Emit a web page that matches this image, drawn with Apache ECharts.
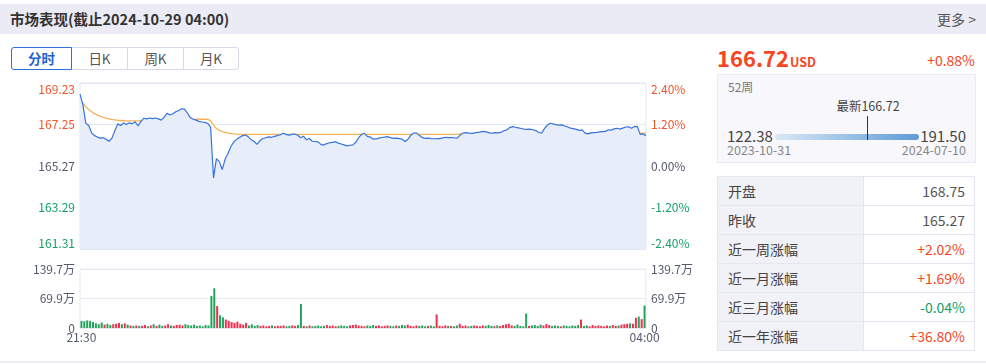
<!DOCTYPE html>
<html><head><meta charset="utf-8">
<script src="https://cdn.jsdelivr.net/npm/echarts@6/dist/echarts.min.js"></script>
<style>
body{margin:0;width:986px;height:364px;background:#fff;font-family:"Noto Sans CJK SC","Noto Sans",sans-serif;position:relative;overflow:hidden;}
.hdr{position:absolute;left:0;top:4px;width:986px;height:30px;background:#ebebf5;}
.hdr .t{position:absolute;left:10px;top:0;line-height:30px;font-size:14.5px;font-weight:bold;color:#333;}
.hdr .m{position:absolute;right:10px;top:0;line-height:30px;font-size:14px;color:#555;}
.tabs{position:absolute;left:11px;top:47px;height:23px;}
.tab{position:absolute;top:0;box-sizing:border-box;height:23px;line-height:21px;text-align:center;font-size:13.5px;color:#555;border:1px solid #d6d9ea;}
.tab.on{border-color:#2f6fde;color:#1f62d6;font-weight:bold;z-index:2;border-radius:3px 0 0 3px;}
#chart{position:absolute;left:0;top:75px;width:710px;height:280px;}
.price{position:absolute;left:717px;top:44px;line-height:26px;font-size:22px;font-weight:bold;color:#f5461f;}
.price span{font-size:12.5px;margin-left:1px;}
.chg{position:absolute;right:11px;top:50px;line-height:20px;font-size:14px;color:#f5461f;}
.wk{position:absolute;left:717px;top:74px;width:259px;height:89px;box-sizing:border-box;background:#f8f8fc;border:1px solid #eaeaf4;}
.wk div{position:absolute;white-space:nowrap;}
.tbl{position:absolute;left:717px;top:176px;width:258px;border-collapse:collapse;}
.tbl td{height:28px;padding:0;border:1px solid #e6e6f2;font-size:14px;}
.tbl td.l{width:135px;background:#f1f1f8;color:#444;padding-left:10px;}
.tbl td.v{text-align:right;padding-right:9px;color:#555;}
.bline{position:absolute;left:0;top:361px;width:986px;height:2px;background:#ededf5;}
</style></head>
<body>
<div class="hdr"><div class="t">市场表现(截止2024-10-29 04:00)</div><div class="m">更多 &gt;</div></div>
<div class="tabs" id="tabs"></div>
<div id="chart"></div>
<div class="price" id="price"></div>
<div class="chg" id="chg"></div>
<div class="wk" id="wk"></div>
<table class="tbl" id="tbl"></table>
<div class="bline"></div>
<script>
// ---- data ----
const tabNames = ['分时', '日K', '周K', '月K'];
const timeLabels = ['21:30', '04:00'];
const prevClose = 165.27;
const openPrice = 168.75;
const lastPrice = 166.72;
const lastChange = '+0.88%';
const week52 = { low: 122.38, high: 191.50, lowDate: '2023-10-31', highDate: '2024-07-10' };
const statNames = ['开盘', '昨收', '近一周涨幅', '近一月涨幅', '近三月涨幅', '近一年涨幅'];
const statValues = ['168.75', '165.27', '+2.02%', '+1.69%', '-0.04%', '+36.80%'];

const prices = [
168.70,168.20,167.31,167.20,166.85,166.72,166.65,166.60,166.62,166.55,
166.45,166.60,166.95,167.28,167.20,167.32,167.25,167.33,167.28,167.38,
167.18,167.40,167.55,167.52,167.56,167.53,167.56,167.52,167.46,167.60,
167.78,167.70,167.76,167.86,167.92,168.00,167.98,167.80,167.58,167.50,
167.46,167.40,167.37,167.35,167.30,167.12,164.70,165.62,165.48,165.10,
165.60,165.88,166.20,166.42,166.55,166.64,166.72,166.75,166.66,166.52,
166.44,166.30,166.48,166.58,166.62,166.66,166.64,166.68,166.72,166.76,
166.83,166.78,166.74,166.78,166.80,166.74,166.62,166.69,166.52,166.58,
166.45,166.44,166.42,166.30,166.27,166.34,166.38,166.40,166.43,166.36,
166.32,166.28,166.23,166.26,166.28,166.40,166.62,166.78,166.83,166.68,
166.65,166.55,166.56,166.60,166.63,166.65,166.67,166.62,166.59,166.60,
166.58,166.55,166.44,166.55,166.74,166.84,166.84,166.72,166.62,166.59,
166.60,166.58,166.57,166.58,166.58,166.61,166.64,166.62,166.63,166.61,
166.60,166.76,166.84,166.86,166.84,166.83,166.85,166.87,166.90,166.92,
166.90,166.85,166.84,166.86,166.85,166.87,166.95,166.99,167.10,167.15,
167.12,167.09,167.06,167.03,167.02,167.03,167.00,166.96,166.88,166.83,
167.05,167.22,167.31,167.28,167.24,167.22,167.23,167.18,167.13,167.08,
167.05,167.02,166.97,166.99,166.84,166.80,166.85,166.86,166.87,166.90,
166.91,166.92,167.00,166.98,167.04,167.07,167.03,167.08,167.13,167.14,
167.07,167.15,167.16,166.78,166.80,166.72
];

const avgPrices = [
168.45,168.25,168.10,167.97,167.86,167.77,167.70,167.64,167.59,167.55,
167.52,167.49,167.47,167.45,167.44,167.43,167.42,167.42,167.42,167.42,
167.42,167.43,167.43,167.43,167.44,167.44,167.44,167.45,167.45,167.45,
167.46,167.46,167.47,167.47,167.48,167.48,167.49,167.49,167.50,167.50,
167.50,167.50,167.50,167.50,167.50,167.42,167.22,167.06,166.97,166.91,
166.87,166.84,166.82,166.80,166.79,166.78,166.78,166.78,166.78,166.78,
166.78,166.78,166.78,166.78,166.78,166.78,166.78,166.78,166.78,166.78,
166.78,166.78,166.78,166.78,166.78,166.78,166.78,166.78,166.78,166.78,
166.78,166.78,166.78,166.78,166.78,166.78,166.78,166.78,166.78,166.78,
166.78,166.78,166.78,166.78,166.78,166.78,166.78,166.78,166.78,166.78,
166.78,166.78,166.78,166.78,166.78,166.78,166.78,166.78,166.78,166.78,
166.78,166.78,166.78,166.78,166.78,166.78,166.78,166.78,166.78,166.78,
166.78,166.78,166.78,166.78,166.78,166.78,166.78,166.78,166.78,166.78,
166.79,166.79,166.79,166.79,166.79,166.79,166.79,166.79,166.79,166.79,
166.79,166.79,166.80,166.80,166.80,166.80,166.80,166.80,166.80,166.80,
166.80,166.80,166.80,166.80,166.80,166.80,166.80,166.80,166.80,166.80,
166.81,166.81,166.81,166.81,166.81,166.81,166.81,166.81,166.81,166.81,
166.82,166.82,166.82,166.82,166.82,166.82,166.82,166.82,166.82,166.82,
166.83,166.83,166.83,166.83,166.83,166.83,166.83,166.83,166.83,166.83,
166.84,166.84,166.84,166.84,166.84,166.84
];

// volumes in 万
const volumes = [
17,16,18,17,14,11,9,13,8,10,
7,9,10,12,9,11,8,6,5,6,
5,5,7,4,6,9,5,8,5,6,
9,6,5,7,8,6,9,7,6,8,
5,6,4,7,6,76,94,52,30,25,
20,17,14,12,15,10,8,12,6,9,
5,7,5,6,4,5,6,4,5,5,
6,4,5,6,5,7,57,5,4,6,
4,5,6,4,5,7,5,6,4,5,
6,5,4,6,7,8,6,5,4,6,
5,7,5,6,4,5,6,5,4,6,
5,7,6,8,5,4,6,5,6,4,
5,6,4,32,5,4,6,5,5,4,
6,10,5,6,4,5,6,5,4,6,
5,7,5,4,6,5,7,9,10,6,
5,8,5,4,34,5,6,7,5,8,
6,9,7,5,6,5,4,6,5,4,
6,5,7,20,5,6,4,7,5,6,
5,4,6,5,7,5,6,8,9,10,
11,10,24,27,21,53
];
const volMax = 139.7;

// ---- page parts ----
const tabW = [61, 56, 56, 55];
let tx = 0, th = '';
tabNames.forEach((n, i) => {
  th += `<div class="tab${i === 0 ? ' on' : ''}" style="left:${tx - (i ? 1 : 0)}px;width:${tabW[i] + (i ? 1 : 0)}px;${i === tabNames.length - 1 ? 'border-radius:0 3px 3px 0;' : ''}">${n}</div>`;
  tx += tabW[i];
});
document.getElementById('tabs').innerHTML = th;
document.getElementById('price').innerHTML = lastPrice.toFixed(2) + '<span>USD</span>';
document.getElementById('chg').textContent = lastChange;
document.getElementById('wk').innerHTML =
  '<div style="left:10px;top:3px;font-size:12px;line-height:18px;color:#777;">52周</div>' +
  `<div style="left:90px;width:120px;text-align:center;top:22px;font-size:12.5px;line-height:18px;color:#444;">最新${lastPrice.toFixed(2)}</div>` +
  `<div style="left:57px;top:59px;width:144px;height:6px;border-radius:3px;background:linear-gradient(90deg,#dbe8f5,#5f9bd6);"></div>` +
  `<div style="left:${57 + Math.round(144 * (lastPrice - week52.low) / (week52.high - week52.low))}px;top:41px;width:1px;height:24px;background:#333;"></div>` +
  `<div style="left:9px;top:50px;font-size:15px;line-height:22px;color:#444;">${week52.low.toFixed(2)}</div>` +
  `<div style="right:9px;top:50px;font-size:15px;line-height:22px;color:#444;">${week52.high.toFixed(2)}</div>` +
  `<div style="left:9px;top:67px;font-size:12.5px;line-height:16px;color:#888;">${week52.lowDate}</div>` +
  `<div style="right:9px;top:67px;font-size:12.5px;line-height:16px;color:#888;">${week52.highDate}</div>`;
let tb = '';
statNames.forEach((n, i) => {
  const v = statValues[i];
  const c = v[0] === '+' ? '#f5461f' : (v[0] === '-' ? '#16a067' : '#555');
  tb += `<tr><td class="l">${n}</td><td class="v" style="color:${c}">${v}</td></tr>`;
});
document.getElementById('tbl').innerHTML = tb;

// ---- chart ----
const cats = prices.map((_, k) => {
  const m = (21 * 60 + 30 + 2 * k) % 1440;
  return String(Math.floor(m / 60)).padStart(2, '0') + ':' + String(m % 60).padStart(2, '0');
});
const RED = '#f2542d', GREEN = '#16a067', GRAY = '#555a6e';
const FONT = '"Noto Sans CJK SC","Noto Sans",sans-serif';
const step = 1.98;
const priceColor = v => v > 1e-6 ? RED : (v < -1e-6 ? GREEN : GRAY);
const volFmt = v => v < 1e-6 ? '0' : (Math.round(v * 10 + 1e-6) / 10).toFixed(1) + '万';
const volData = volumes.map((v, k) => {
  const prev = k === 0 ? openPrice : prices[k - 1];
  return { value: v, itemStyle: { color: prices[k] >= prev ? '#f0304f' : '#24a35c' } };
});

const chart = echarts.init(document.getElementById('chart'));
chart.setOption({
  animation: false,
  textStyle: { fontFamily: FONT },
  grid: [
    { left: 80, top: 8, width: 566, height: 166, show: true, borderColor: '#e3e6f1', borderWidth: 1 },
    { left: 80, top: 194, width: 566, height: 59, show: true, borderColor: '#e8eaf3', borderWidth: 1 }
  ],
  xAxis: [
    { type: 'category', gridIndex: 0, data: cats, boundaryGap: false,
      axisLine: { show: false }, axisTick: { show: false }, axisLabel: { show: false }, splitLine: { show: false } },
    { type: 'category', gridIndex: 1, data: cats, boundaryGap: true,
      axisLine: { show: false }, axisTick: { show: false }, splitLine: { show: false },
      axisLabel: { interval: cats.length - 2, color: GRAY, fontSize: 12, margin: 3,
        formatter: v => timeLabels.includes(v) ? v : '' } }
  ],
  yAxis: [
    { type: 'value', gridIndex: 0, position: 'left', min: -2 * step, max: 2 * step, interval: step,
      axisLine: { show: false }, axisTick: { show: false },
      splitLine: { lineStyle: { color: '#e3e6f3' } },
      axisLabel: { fontSize: 12, margin: 5, color: priceColor,
        verticalAlignMaxLabel: 'top', verticalAlignMinLabel: 'bottom',
        formatter: v => (v + prevClose).toFixed(2) } },
    { type: 'value', gridIndex: 0, position: 'right', min: -2 * step, max: 2 * step, interval: step,
      axisLine: { show: false }, axisTick: { show: false }, splitLine: { show: false },
      axisLabel: { fontSize: 12, margin: 5, color: priceColor,
        verticalAlignMaxLabel: 'top', verticalAlignMinLabel: 'bottom',
        formatter: v => { const p = v / prevClose * 100; return (Math.abs(p) < 1e-6 ? '0.00' : p.toFixed(2)) + '%'; } } },
    { type: 'value', gridIndex: 1, position: 'left', min: 0, max: volMax, interval: volMax / 2,
      axisLine: { show: false }, axisTick: { show: false },
      splitLine: { lineStyle: { color: '#e8eaf3' } },
      axisLabel: { fontSize: 12, margin: 5, color: GRAY, formatter: volFmt } },
    { type: 'value', gridIndex: 1, position: 'right', min: 0, max: volMax, interval: volMax / 2,
      axisLine: { show: false }, axisTick: { show: false }, splitLine: { show: false },
      axisLabel: { fontSize: 12, margin: 5, color: GRAY, formatter: volFmt } }
  ],
  series: [
    { type: 'line', xAxisIndex: 0, yAxisIndex: 0, data: prices.map(p => +(p - prevClose).toFixed(4)),
      showSymbol: false, smooth: false, lineStyle: { color: '#3573e0', width: 1.2 },
      areaStyle: { origin: 'start', color: '#e7edf9', opacity: 1 }, z: 3 },
    { type: 'line', xAxisIndex: 0, yAxisIndex: 0, data: avgPrices.map(p => +(p - prevClose).toFixed(4)),
      showSymbol: false, lineStyle: { color: '#f4b25c', width: 1.3 }, z: 2 },
    { type: 'bar', xAxisIndex: 1, yAxisIndex: 2, data: volData, barWidth: 2 }
  ]
});
</script>
</body></html>
